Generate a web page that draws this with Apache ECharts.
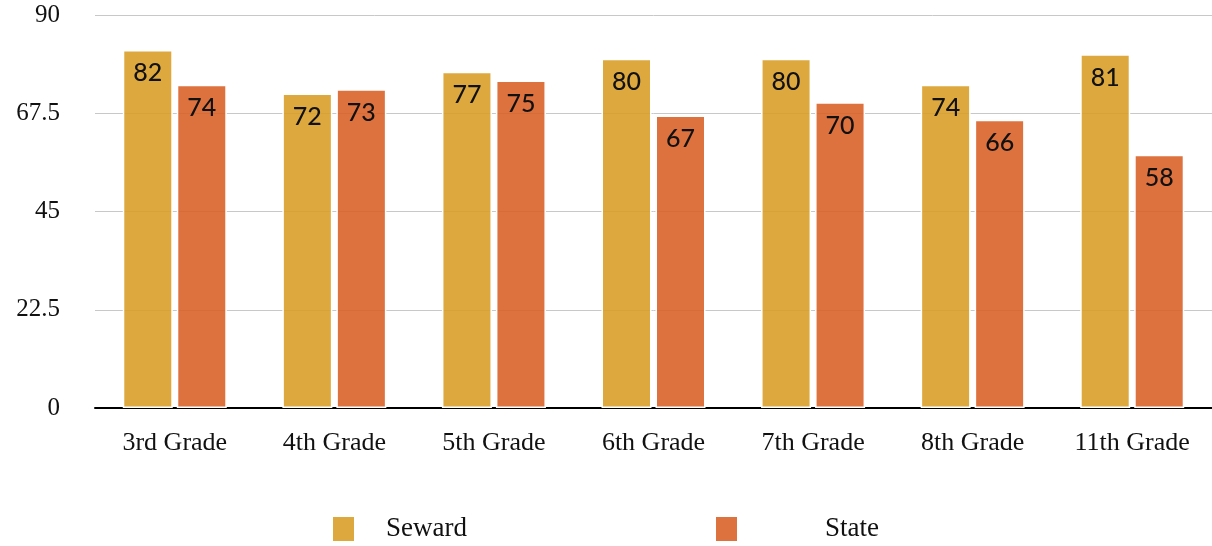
<!DOCTYPE html>
<html>
<head>
<meta charset="utf-8">
<script src="https://cdn.jsdelivr.net/npm/echarts@6/dist/echarts.min.js"></script>
<style>html,body{margin:0;padding:0;background:#fff}#c{width:1212px;height:546px}</style>
</head>
<body>
<div id="c"></div>
<script>
const categories = ['3rd Grade','4th Grade','5th Grade','6th Grade','7th Grade','8th Grade','11th Grade'];
const seward = [82, 72, 77, 80, 80, 74, 81];
const state = [74, 73, 75, 67, 70, 66, 58];
const yTicks = [0, 22.5, 45, 67.5, 90];

const serif = '"Liberation Serif", "DejaVu Serif", serif';
const sans = 'Lato, "DejaVu Sans", sans-serif';
const chart = echarts.init(document.getElementById('c'));
const label = {show: true, position: 'insideTop', distance: 11, color: '#111', fontFamily: sans, fontSize: 25, fontWeight: 500};
chart.setOption({
  animation: false,
  grid: {left: 95, right: 0, top: 15, bottom: 138},
  legend: [
    {data: ['Seward'], left: 331, top: 515, padding: 0, itemWidth: 23, itemHeight: 26, icon: 'rect',
     textStyle: {fontFamily: serif, fontSize: 27, color: '#111', padding: [0,0,0,26]}},
    {data: ['State'], left: 714, top: 515, padding: 0, itemWidth: 23, itemHeight: 26, icon: 'rect',
     textStyle: {fontFamily: serif, fontSize: 27, color: '#111', padding: [0,0,0,82]}}
  ],
  xAxis: {
    type: 'category', data: categories,
    axisLine: {lineStyle: {color: '#000', width: 2}},
    axisTick: {show: false},
    axisLabel: {fontFamily: serif, fontSize: 26, color: '#111', margin: 22}
  },
  yAxis: {
    type: 'value', min: 0, max: 90, interval: 22.5,
    axisLine: {show: false}, axisTick: {show: false},
    splitLine: {lineStyle: {color: '#c8c8c8', width: 1}},
    axisLabel: {fontFamily: serif, fontSize: 25, color: '#111', margin: 35,
      formatter: v => yTicks.includes(v) ? String(v) : ''}
  },
  series: [
    {name: 'Seward', type: 'bar', data: seward, barWidth: 50, barGap: '8%',
     itemStyle: {color: 'rgba(216,157,35,0.88)', borderColor: '#fff', borderWidth: 1.5}, label},
    {name: 'State', type: 'bar', data: state, barWidth: 50,
     itemStyle: {color: 'rgba(218,94,35,0.88)', borderColor: '#fff', borderWidth: 1.5}, label}
  ]
});
</script>
</body>
</html>
